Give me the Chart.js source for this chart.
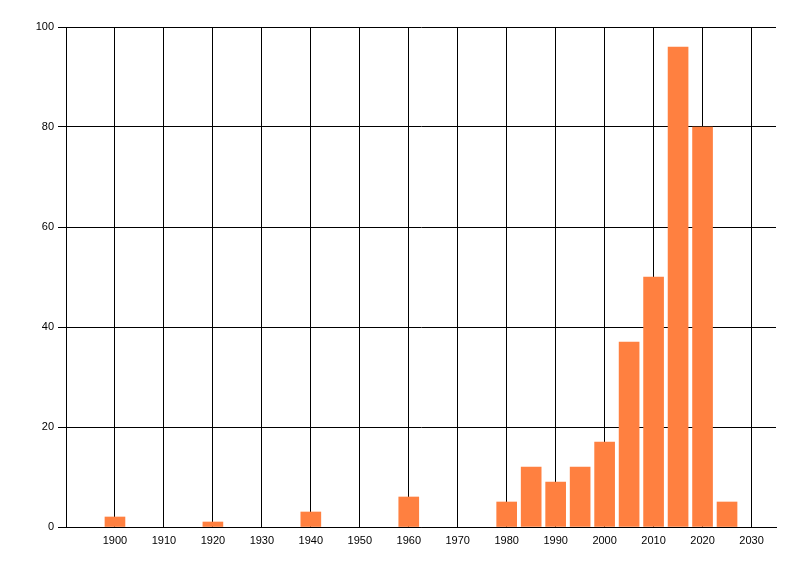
<!DOCTYPE html>
<html>
<head>
<meta charset="utf-8">
<script src="https://cdn.jsdelivr.net/npm/chart.js@4.4.1/dist/chart.umd.min.js"></script>
<style>
  html, body { margin: 0; padding: 0; background: #fff; }
  #wrap { width: 800px; height: 576px; }
</style>
</head>
<body>
<div id="wrap"><canvas id="chart" width="800" height="576"></canvas></div>
<script>
const years = [1900, 1920, 1940, 1960, 1980, 1985, 1990, 1995, 2000, 2005, 2010, 2015, 2020, 2025];
const counts = [2, 1, 3, 6, 5, 12, 9, 12, 17, 37, 50, 96, 80, 5];
const xTicks = [1900, 1910, 1920, 1930, 1940, 1950, 1960, 1970, 1980, 1990, 2000, 2010, 2020, 2030];
const yTicks = [0, 20, 40, 60, 80, 100];

const font = { family: 'Liberation Sans, Arial, sans-serif', size: 11 };

new Chart(document.getElementById('chart'), {
  type: 'bar',
  data: {
    datasets: [{
      data: years.map((y, i) => ({ x: y, y: counts[i] })),
      backgroundColor: '#ff8040',
      borderWidth: 0,
      barThickness: 20
    }]
  },
  options: {
    responsive: false,
    devicePixelRatio: 1,
    animation: false,
    layout: { padding: { top: 27, right: 24, left: 0, bottom: 0 } },
    plugins: { legend: { display: false }, tooltip: { enabled: false } },
    scales: {
      x: {
        type: 'linear',
        min: 1890,
        max: 2035,
        offset: false,
        afterBuildTicks: (scale) => { scale.ticks = xTicks.map((v) => ({ value: v })); },
        afterFit: (scale) => { scale.height = 49; },
        grid: { color: '#000', lineWidth: 1, drawTicks: false, offset: false },
        border: { color: '#000', width: 1 },
        ticks: { color: '#000', font, padding: 7, maxRotation: 0, autoSkip: false, callback: (v) => String(v) }
      },
      y: {
        min: 0,
        max: 100,
        afterBuildTicks: (scale) => { scale.ticks = yTicks.map((v) => ({ value: v })); },
        afterFit: (scale) => { scale.width = 66; },
        grid: { color: '#000', lineWidth: 1, tickLength: 8 },
        border: { color: '#000', width: 1 },
        ticks: { color: '#000', font, padding: 4 }
      }
    }
  }
});
</script>
</body>
</html>
